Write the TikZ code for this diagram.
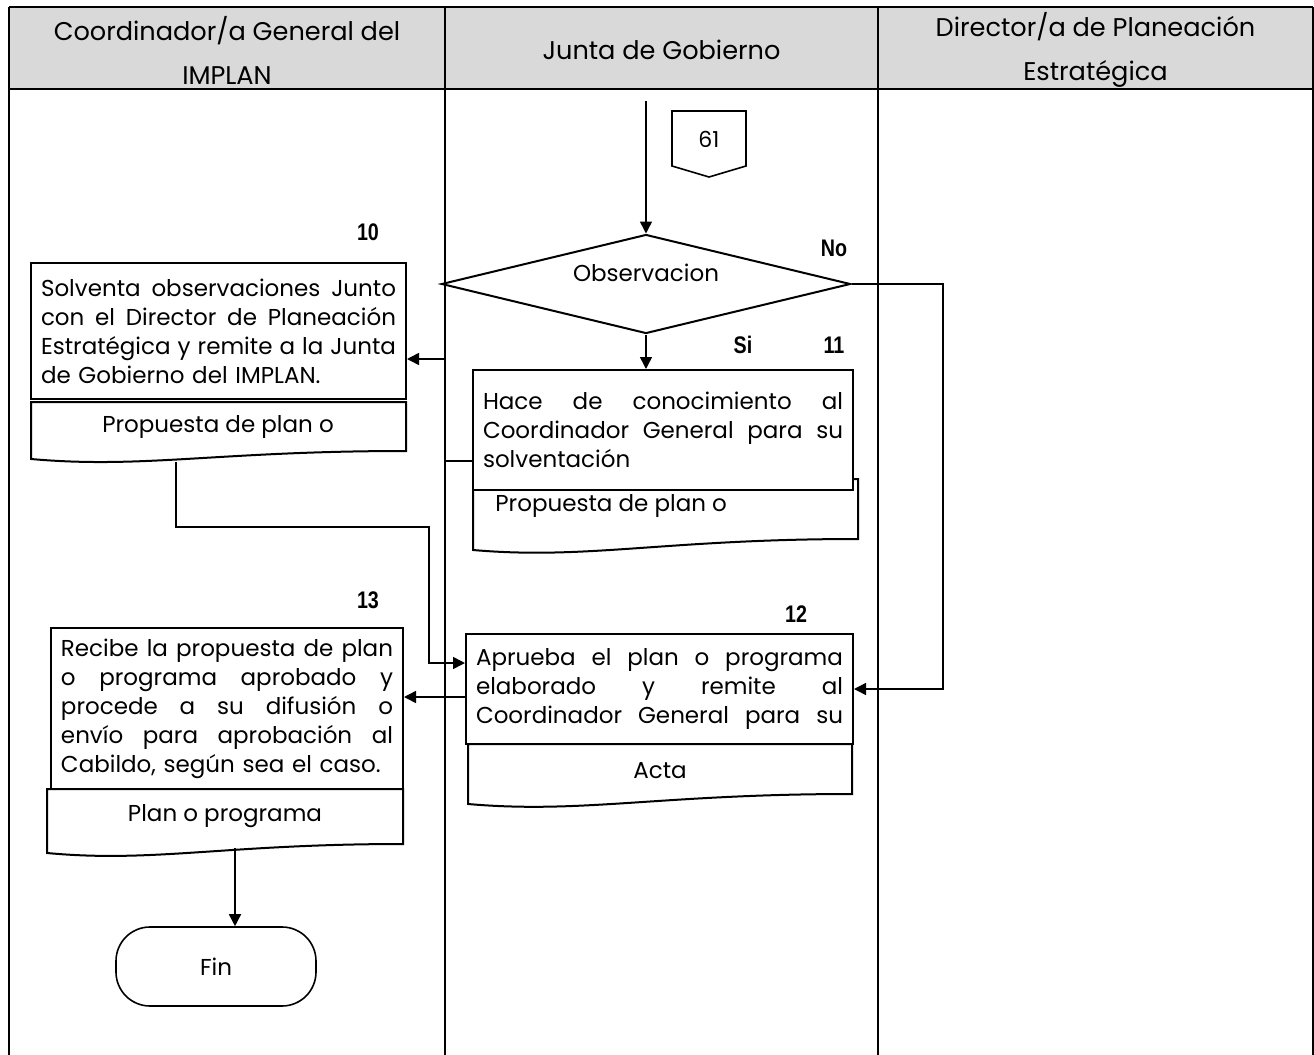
\documentclass[tikz,border=0pt]{standalone}
\usepackage{fontspec}
\setmainfont{Poppins}
\newfontfamily\lblfont[FakeStretch=0.82]{Liberation Sans}
\usetikzlibrary{shapes.geometric,arrows.meta}
\definecolor{hdr}{HTML}{D9D9D9}
\hyphenpenalty=10000
\exhyphenpenalty=10000
\newlength{\jw}
\newcommand{\wsp}{\hskip 0.25em plus 1fil\relax}
\newcommand{\jline}[1]{\hbox to\jw{#1}\par}
\newcommand{\lline}[1]{\hbox to\jw{#1\hfil}\par}
\tikzset{
  lane/.style={line width=1.3pt},
  procbox/.style={draw, line width=1pt, fill=white, inner xsep=5pt, inner ysep=2pt, align=left,
    font=\fontsize{11.5}{14.5}\selectfont},
  docshape/.style={draw, line width=1pt, fill=white},
  conn/.style={line width=0.75pt, -{Triangle[length=6pt,width=6pt]}},
  numlbl/.style={font=\fontsize{12}{14}\lblfont\bfseries},
  hdrtxt/.style={font=\fontsize{12.8}{22}\selectfont, align=center},
  bodytxt/.style={font=\fontsize{11.5}{14.5}\selectfont},
}
\begin{document}
\begin{tikzpicture}[x=0.5pt,y=-0.5pt]
\useasboundingbox (0,0) rectangle (1314,1055);
% ---- swimlane table ----
\fill[hdr] (9,7) rectangle (1313,89);
\draw[lane] (9,7) -- (1313,7);
\draw[lane] (9,89) -- (1313,89);
\draw[lane] (9,7) -- (9,1055);
\draw[lane] (445,7) -- (445,1055);
\draw[lane] (878,7) -- (878,1055);
\draw[lane] (1313,7) -- (1313,1055);
\node[hdrtxt] (h1) at (227,50) {Coordinador/a General del\\IMPLAN};
\node[hdrtxt] (h2) at (661.5,50) {Junta de Gobierno};
\node[hdrtxt] (h3) at (1095.5,50) {Director/a de Planeación\\Estratégica};

% ---- off-page connector 61 ----
\draw[line width=0.8pt] (672,111) -- (746,111) -- (746,166) -- (709,177) -- (672,166) -- cycle;
\node[font=\fontsize{11}{13}\selectfont] (c61) at (709,139) {61};

% ---- decision ----
\node[draw, diamond, line width=1pt, inner sep=0pt, minimum width=204.5pt, minimum height=49.5pt] (obs) at (646,284) {};
\node[font=\fontsize{11.5}{14}\selectfont] (obstxt) at (646,273) {Observacion};

% ---- labels ----
\node[numlbl] (l10) at (368,232) {10};
\node[numlbl] (lno) at (834,248) {No};
\node[numlbl] (lsi) at (743,345) {Si};
\node[numlbl] (l11) at (834,345) {11};
\node[numlbl] (l13) at (368,600) {13};
\node[numlbl] (l12) at (796,614) {12};

% ---- Solventa ----
\node[procbox, minimum width=187.5pt, minimum height=68pt, text width=177.5pt] (solv) at (218.5,331)
  {\setlength{\jw}{177.5pt}%
   \jline{Solventa\wsp observaciones\wsp Junto}%
   \jline{con\wsp el\wsp Director\wsp de\wsp Planeación}%
   \jline{Estratégica\wsp y\wsp remite\wsp a\wsp la\wsp Junta}%
   \lline{de Gobierno del IMPLAN.}};
\draw[docshape] (31,402) -- (406,402) -- (406,451) .. controls (218,451) and (143,469) .. (31,459) -- cycle;
\node[bodytxt] (solvdoc) at (218,427) {Propuesta de plan o};
\coordinate (solvbot) at (176,462);

% ---- Hace ----
\draw[docshape] (473,479) -- (858,479) -- (858,539) .. controls (665,539) and (588,560) .. (473,550) -- cycle;
\node[bodytxt, anchor=west, inner sep=0pt] (hacedoc) at (495,506) {Propuesta de plan o};
\node[procbox, minimum width=190pt, minimum height=60pt, text width=180pt] (hace) at (663,430)
  {\setlength{\jw}{180pt}%
   \jline{Hace\wsp de\wsp conocimiento\wsp al}%
   \jline{Coordinador\wsp General\wsp para\wsp su}%
   \lline{solventación}};

% ---- Aprueba ----
\node[procbox, minimum width=193.5pt, minimum height=55pt, text width=183.5pt] (aprueba) at (659.5,689)
  {\setlength{\jw}{183.5pt}%
   \jline{Aprueba\wsp el\wsp plan\wsp o\wsp programa}%
   \jline{elaborado\wsp y\wsp remite\wsp al}%
   \jline{Coordinador\wsp General\wsp para\wsp su}};
\draw[docshape] (468,744) -- (852,744) -- (852,794) .. controls (660,794) and (583,814) .. (468,804) -- cycle;
\node[bodytxt] (actadoc) at (660,771) {Acta};

% ---- Recibe ----
\node[procbox, minimum width=176pt, minimum height=80.5pt, text width=166pt] (recibe) at (227,708.5)
  {\setlength{\jw}{166pt}%
   \jline{Recibe\wsp la\wsp propuesta\wsp de\wsp plan}%
   \jline{o\wsp programa\wsp aprobado\wsp y}%
   \jline{procede\wsp a\wsp su\wsp difusión\wsp o}%
   \jline{envío\wsp para\wsp aprobación\wsp al}%
   \lline{Cabildo, según sea el caso.}};
\draw[docshape] (47,789) -- (403,789) -- (403,844) .. controls (225,844) and (154,863) .. (47,853) -- cycle;
\node[bodytxt] (recdoc) at (225,816) {Plan o programa};
\coordinate (recbot) at (235,848);

% ---- Fin ----
\node[draw, line width=0.8pt, rounded corners=17pt, minimum width=100pt, minimum height=39.5pt,
      font=\fontsize{11.5}{13}\selectfont] (fin) at (216,966.5) {Fin};

% ---- connectors ----
\coordinate (start) at (646,101);
\coordinate (noX) at (943,284);
\draw[conn] (start) -- (obs.north);
\draw[conn] (obs.south) -- (obs.south |- hace.north);
\draw[conn] (obs.east) -- (noX) |- (aprueba.east);
\draw[conn] ([yshift=-15.5pt]hace.west) -- (445,461) -- (445,359) -- ([yshift=-14pt]solv.east);
\draw[conn] (solvbot) -- (176,527) -- (429,527) -- (429,663) -- ([yshift=13pt]aprueba.west);
\draw[conn] ([yshift=-4pt]aprueba.west) -- ([yshift=-4pt]aprueba.west -| recibe.east);
\draw[conn] (recbot) -- (recbot |- fin.north);
\end{tikzpicture}
\end{document}
